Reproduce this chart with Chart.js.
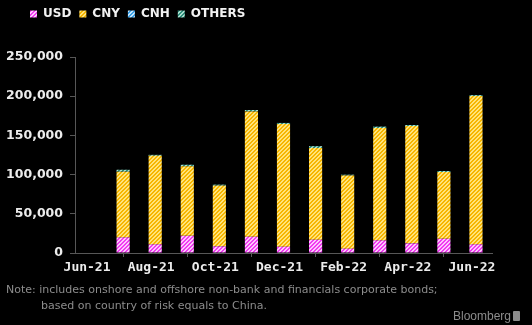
<!DOCTYPE html>
<html><head><meta charset="utf-8">
<script src="https://cdn.jsdelivr.net/npm/chart.js@4.4.1/dist/chart.umd.min.js"></script>
<style>
html,body{margin:0;padding:0;background:#000;}
#wrap{position:relative;width:532px;height:325px;overflow:hidden;background:#000;}
canvas{position:absolute;left:0;top:0;}
.t{position:absolute;white-space:nowrap;font-family:"DejaVu Sans";font-size:11px;line-height:13px;color:#8c8c8c;}
.logo{position:absolute;left:453px;top:309px;font-family:"Liberation Sans";font-size:12px;line-height:14px;color:#8c8c8c;white-space:nowrap;}
.icon{position:absolute;left:60px;top:2px;width:7px;height:10px;background:#8c8c8c;border-radius:1px;}
</style></head>
<body><div id="wrap"><canvas id="c" width="532" height="325"></canvas>
<div class="t" style="left:6px;top:283px;">Note: includes onshore and offshore non-bank and financials corporate bonds;</div>
<div class="t" style="left:41px;top:299px;">based on country of risk equals to China.</div>
<div class="logo">Bloomberg<span class="icon"></span></div>
</div>
<script>
const months = ['Jun-21','Jul-21','Aug-21','Sep-21','Oct-21','Nov-21','Dec-21','Jan-22','Feb-22','Mar-22','Apr-22','May-22','Jun-22'];
const xTickLabels = ['Jun-21','Aug-21','Oct-21','Dec-21','Feb-22','Apr-22','Jun-22'];
const yTicks = [0, 50000, 100000, 150000, 200000, 250000];
const usd    = [null, 19900, 11000, 21900, 8500, 20700, 8000, 16900, 5500, 16100, 12300, 18100, 11000];
const cny    = [null, 83800, 112900, 88900, 77400, 159900, 156600, 116900, 93400, 143300, 149700, 85200, 189100];
const cnh    = [null, 0, 0, 0, 0, 0, 0, 0, 0, 0, 0, 0, 0];
const others = [null, 2500, 1300, 1800, 1300, 1800, 1300, 2500, 1000, 1800, 1300, 1300, 1300];

function pattern(dark, light){
  const c = document.createElement('canvas'); c.width = 4; c.height = 4;
  const x = c.getContext('2d');
  for (let i = 0; i < 4; i++) for (let j = 0; j < 4; j++) {
    x.fillStyle = ((i + j) % 4) < 2 ? dark : light;
    x.fillRect(i, j, 1, 1);
  }
  return x.createPattern(c, 'repeat');
}
const pUSD = pattern('#f03cf0', '#ffc4ff');
const pCNY = pattern('#f7b500', '#ffe47a');
const pCNH = pattern('#3aa0e8', '#c4e6ff');
const pOTH = pattern('#2e8f7c', '#a8dccc');

const legendSpacer = {
  id: 'legendSpacer',
  beforeInit(chart){
    const lg = chart.legend; if (!lg) return;
    const orig = lg.fit;
    lg.fit = function(){ orig.call(this); this.height += 27; };
  },
  afterLayout(chart){
    const lg = chart.legend; if (!lg) return;
    lg.left += 22; lg.right += 22;
  }
};

const axisCol = '#575757';
new Chart(document.getElementById('c'), {
  type: 'bar',
  data: {
    labels: months,
    datasets: [
      {label:'USD', data: usd, backgroundColor: pUSD},
      {label:'CNY', data: cny, backgroundColor: pCNY},
      {label:'CNH', data: cnh, backgroundColor: pCNH},
      {label:'OTHERS', data: others, backgroundColor: pOTH}
    ]
  },
  options: {
    responsive: false,
    animation: false,
    devicePixelRatio: 1,
    layout: {padding: {left: 0, right: 40, top: 0, bottom: 47}},
    datasets: {bar: {barPercentage: 0.41, categoryPercentage: 1, borderWidth: 0}},
    plugins: {
      tooltip: {enabled: false},
      legend: {
        position: 'top', align: 'start',
        labels: {boxWidth: 7, boxHeight: 7, padding: 8, color: '#f2f2f2',
          font: {family: 'DejaVu Sans', weight: 'bold', size: 12}}
      }
    },
    scales: {
      x: {
        stacked: true,
        border: {display: true, color: axisCol},
        grid: {drawOnChartArea: false, drawTicks: true, tickLength: 4, color: axisCol, offset: true},
        ticks: {
          autoSkip: false, maxRotation: 0, padding: 3, labelOffset: -4, color: '#ececec',
          font: {family: 'DejaVu Sans Mono', weight: 'bold', size: 13},
          callback: function(v){ const l = this.getLabelForValue(v); return xTickLabels.includes(l) ? l : null; }
        },
        afterFit(s){ s.height = 25; }
      },
      y: {
        stacked: true, min: yTicks[0], max: yTicks[yTicks.length-1],
        border: {display: true, color: axisCol},
        grid: {drawOnChartArea: false, drawTicks: true, tickLength: 5, color: axisCol},
        afterBuildTicks(s){ s.ticks = yTicks.map(v => ({value: v})); },
        ticks: {
          padding: 7, color: '#ececec',
          font: {family: 'DejaVu Sans', weight: 'bold', size: 12.5},
          callback: v => v.toLocaleString('en-US')
        },
        afterFit(s){ s.width = 75; }
      }
    }
  },
  plugins: [legendSpacer]
});
</script>
</body></html>
